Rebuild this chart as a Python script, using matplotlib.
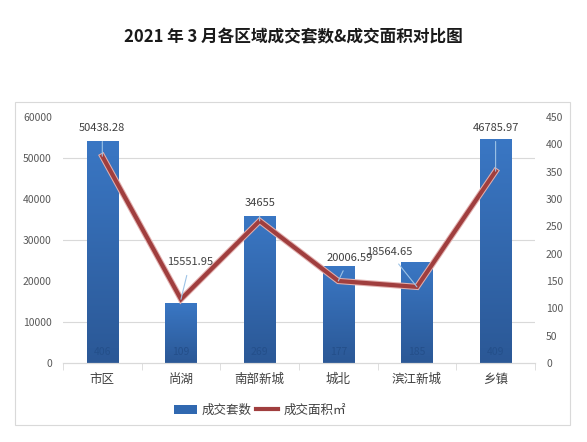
import numpy as np
import matplotlib
matplotlib.use("Agg")
from matplotlib import pyplot as plt
from matplotlib.patches import Rectangle
from matplotlib.ticker import MultipleLocator
from matplotlib.colors import LinearSegmentedColormap

plt.rcParams['font.family'] = ['Noto Sans CJK SC', 'DejaVu Sans']

# 数据
regions = ['市区', '尚湖', '南部新城', '城北', '滨江新城', '乡镇']
counts = [406, 109, 269, 177, 185, 409]          # 成交套数 (右轴)
areas = [50438.28, 15551.95, 34655, 20006.59, 18564.65, 46785.97]  # 成交面积 (左轴)
area_labels = ['50438.28', '15551.95', '34655', '20006.59', '18564.65', '46785.97']

fig = plt.figure(figsize=(5.87, 4.42), dpi=100)

# 外框
fig.patches.append(Rectangle((0.0256, 0.0385), 0.9455, 0.7308, transform=fig.transFigure,
                             fill=False, edgecolor='#d9d9d9', lw=0.8))

fig.text(0.5, 0.916, '2021 年 3 月各区域成交套数&成交面积对比图', ha='center', va='center',
         fontsize=12, fontweight='bold', color='#1a1a1a')

ax_bar = fig.add_axes([0.1073, 0.1787, 0.804, 0.5566])
ax_line = ax_bar.twinx()

x = np.arange(len(regions))
bar_w = 0.4

# 柱子 (渐变)
cmap = LinearSegmentedColormap.from_list('blu', ['#2b5896', '#3a77c4'])
bars = ax_bar.bar(x, counts, width=bar_w, color='#3068b0', zorder=2)
grad = np.linspace(0, 1, 256).reshape(-1, 1)
for b in bars:
    im = ax_bar.imshow(grad, cmap=cmap, aspect='auto', origin='lower', zorder=2.5,
                       extent=[b.get_x(), b.get_x() + b.get_width(), 0, b.get_height()])
    im.set_clip_path(b)
for xi, c in zip(x, counts):
    ax_bar.text(xi, 20, str(c), ha='center', va='center', fontsize=7.5, color='#244f8a', zorder=3)

ax_bar.set_xlim(-0.5, len(regions) - 0.5)
ax_bar.set_ylim(0, 450)
ax_bar.yaxis.tick_right()
ax_bar.yaxis.set_major_locator(MultipleLocator(50))
ax_bar.yaxis.set_minor_locator(MultipleLocator(75))
ax_bar.grid(axis='y', which='minor', color='#d9d9d9', lw=0.8, zorder=0)
ax_bar.set_axisbelow(True)

# 折线
ax_line.plot(x, areas, color='#e2b0af', lw=4.5, solid_joinstyle='miter', zorder=3)
ax_line.plot(x, areas, color='#a03e3e', lw=3, solid_joinstyle='miter', zorder=4)
ax_line.set_ylim(0, 60000)
ax_line.yaxis.tick_left()
ax_line.yaxis.set_major_locator(MultipleLocator(10000))

offsets = [(0, 28), (9, 37), (0, 18), (11, 23), (-28, 35), (0, 43)]
for xi, a, lab, off in zip(x, areas, area_labels, offsets):
    ax_line.annotate(lab, (xi, a), xytext=off, textcoords='offset pixels',
                     ha='center', va='center', fontsize=8, color='#404040',
                     arrowprops=dict(arrowstyle='-', color='#9dc3e6', lw=0.8,
                                     shrinkA=4, shrinkB=0), zorder=5)

for a in (ax_bar, ax_line):
    for s in ('left', 'right', 'top'):
        a.spines[s].set_visible(False)
    a.spines['bottom'].set_color('#d9d9d9')
    a.tick_params(axis='y', which='both', length=0, labelsize=7.5, labelcolor='#595959', pad=8)

ax_bar.set_xticks(x)
ax_bar.set_xticklabels(regions, fontsize=9, color='#404040')
ax_bar.set_xticks(np.arange(-0.5, len(regions)), minor=True)
ax_bar.tick_params(axis='x', which='major', length=0, pad=7)
ax_bar.tick_params(axis='x', which='minor', length=5, color='#d9d9d9')

# 图例
h_bar = Rectangle((0, 0), 1, 1, facecolor='#3068b0')
h_line, = ax_line.plot([], [], color='#a03e3e', lw=3)
fig.legend([h_bar, h_line], ['成交套数', '成交面积㎡'], loc='center',
           bbox_to_anchor=(0.443, 0.072), ncol=2, frameon=False, fontsize=9,
           handlelength=1.8, handletextpad=0.4, columnspacing=0.3,
           labelcolor='#404040')

fig.savefig('out.png', dpi=100)
